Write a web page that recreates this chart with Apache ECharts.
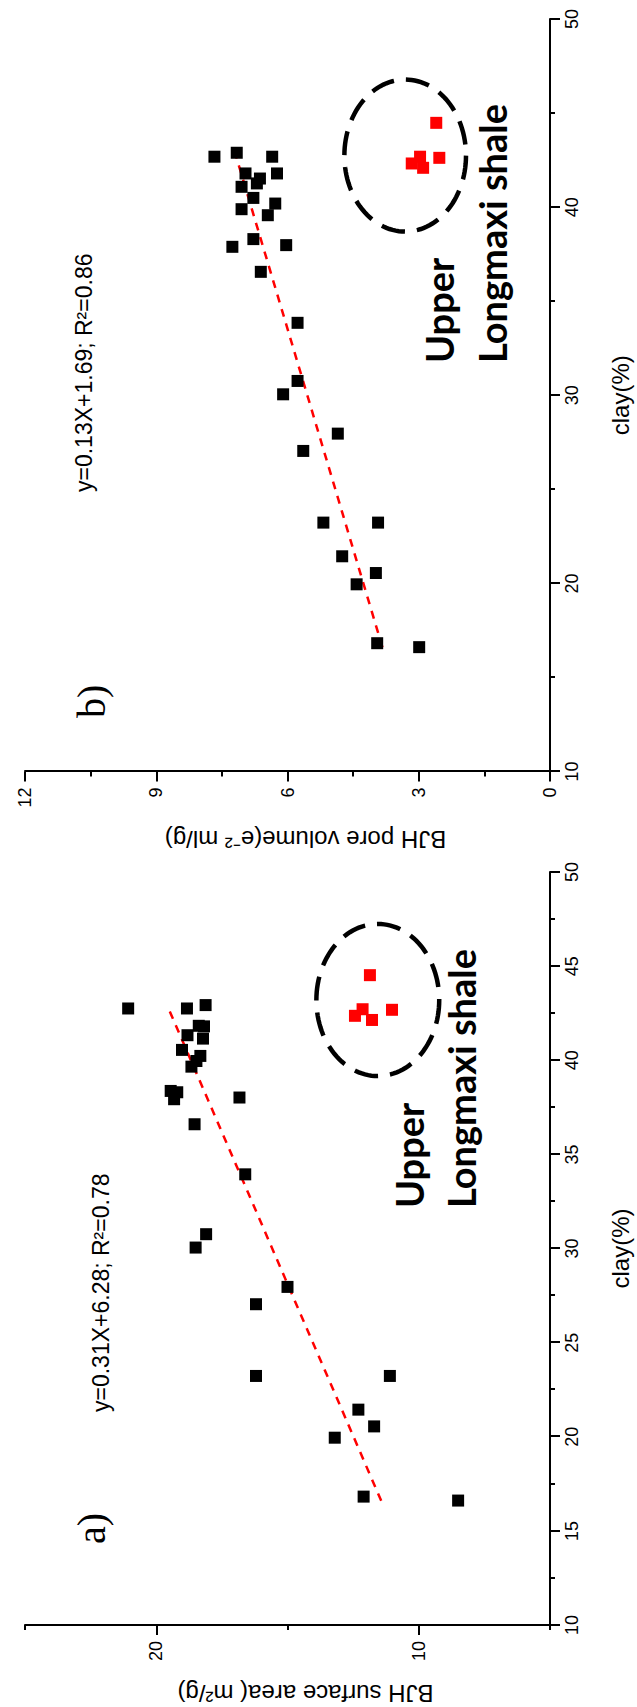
<!DOCTYPE html>
<html>
<head>
<meta charset="utf-8">
<script src="https://cdn.jsdelivr.net/npm/echarts@6/dist/echarts.min.js"></script>
<style>
html, body { margin: 0; padding: 0; background: #fff; width: 637px; height: 1707px; overflow: hidden; }
#chart { position: absolute; left: 0; top: 0; width: 1707px; height: 637px;
  transform-origin: 0 0; transform: translate(0, 1707px) rotate(-90deg); background: #fff; }
</style>
</head>
<body>
<div id="chart"></div>
<script>
// ---------- data (clay %, value) ----------
const clayRange = [10, 50];
const saRange = [5, 25];
const volRange = [0, 12];
const saLabelValues = [10, 20];
const saMinorValues = [5, 15, 25];

// panel a: BJH surface area (m2/g)
const blackA = [
  [42.75, 21.07], [42.75, 18.83], [42.93, 18.12], [41.83, 18.38], [41.80, 18.18],
  [41.33, 18.81], [41.15, 18.22], [40.55, 19.02], [40.23, 18.32], [39.96, 18.47],
  [39.66, 18.66], [38.37, 19.45], [38.30, 19.20], [37.93, 19.32], [38.02, 16.83],
  [36.60, 18.54], [33.94, 16.61], [30.76, 18.10], [30.05, 18.50], [27.96, 15.00],
  [27.04, 16.20], [23.23, 16.20], [23.23, 11.10], [21.44, 12.30], [20.55, 11.70],
  [19.95, 13.20], [16.82, 12.10], [16.61, 8.50]
];
const redA = [[44.52, 11.86], [42.36, 12.43], [42.71, 12.14], [42.14, 11.78], [42.68, 11.02]];
const fitA = [[16.6, 11.43], [42.9, 19.58]];
const ellipseA = [43.2, 11.56, 4.04, 2.34];   // centre clay, centre value, radius clay, radius value

// panel b: BJH pore volume (e-2 ml/g)
const blackB = [
  [42.68, 7.67], [42.89, 7.16], [42.68, 6.35], [41.79, 6.96], [41.79, 6.24],
  [41.52, 6.63], [41.26, 6.70], [41.08, 7.05], [40.49, 6.78], [40.19, 6.28],
  [39.89, 7.05], [39.57, 6.45], [38.30, 6.78], [37.89, 7.26], [37.98, 6.03],
  [36.56, 6.61], [33.85, 5.77], [30.76, 5.77], [30.05, 6.10], [27.96, 4.85],
  [27.04, 5.64], [23.23, 5.18], [23.23, 3.93], [21.44, 4.75], [20.55, 3.98],
  [19.95, 4.42], [16.82, 3.95], [16.61, 2.99]
];
const redB = [[44.48, 2.60], [42.62, 2.53], [42.32, 3.16], [42.68, 2.97], [42.09, 2.90]];
const fitB = [[16.6, 3.83], [42.9, 7.20]];
const ellipseB = [42.74, 3.31, 4.04, 1.39];

// texts
const nameClay = 'clay(%)';
const nameSA = 'BJH surface area( m\u00B2/g)';
const nameVol = 'BJH pore volume(e\u207B\u00B2 ml/g)';
const eqA = 'y=0.31X+6.28; R\u00B2=0.78';
const eqB = 'y=0.13X+1.69; R\u00B2=0.86';
const panelLabels = ['a)', 'b)'];
const noteLines = ['Upper', 'Longmaxi shale'];

// ---------- chart ----------
const FONT = 'Liberation Sans';
const chart = echarts.init(document.getElementById('chart'), null, { renderer: 'svg' });

const axisLineStyle = { color: '#000', width: 2 };

function clayAxis(gridIndex, interval) {
  return {
    type: 'value', gridIndex, min: clayRange[0], max: clayRange[1], interval,
    position: 'bottom',
    axisLine: { show: true, onZero: false, lineStyle: axisLineStyle },
    axisTick: { show: true, length: 10, lineStyle: axisLineStyle },
    minorTick: { show: true, splitNumber: 2, length: 5, lineStyle: axisLineStyle },
    axisLabel: { color: '#000', fontSize: 18, fontFamily: FONT, margin: 13 },
    splitLine: { show: false }, minorSplitLine: { show: false },
    name: nameClay, nameLocation: 'middle', nameGap: 58,
    nameTextStyle: { color: '#000', fontSize: 24, fontFamily: FONT }
  };
}

function ellipseRender(params, api) {
  const c = api.coord([api.value(0), api.value(1)]);
  const s = api.size([api.value(2), api.value(3)]);
  const pts = [];
  const n = 120;
  for (let i = 0; i <= n; i++) {
    const t = Math.PI / 2 + (i / n) * Math.PI * 2;
    pts.push([c[0] + s[0] * Math.cos(t), c[1] + s[1] * Math.sin(t)]);
  }
  return {
    type: 'polyline',
    shape: { points: pts },
    style: { fill: 'none', stroke: '#000', lineWidth: 4.5, lineDash: [24, 12] }
  };
}

function panelSeries(idx, black, red, fit, ell) {
  return [
    { type: 'line', xAxisIndex: idx, yAxisIndex: idx, data: fit, symbol: 'none', silent: true,
      lineStyle: { color: '#ff0000', width: 2.5, type: [8, 7], opacity: 1 }, z: 1 },
    { type: 'custom', xAxisIndex: idx, yAxisIndex: idx, data: [ell], renderItem: ellipseRender,
      encode: { x: 0, y: 1 }, silent: true, z: 2 },
    { type: 'scatter', xAxisIndex: idx, yAxisIndex: idx, data: black, symbol: 'rect', symbolSize: 12,
      itemStyle: { color: '#000000', opacity: 1 }, z: 3 },
    { type: 'scatter', xAxisIndex: idx, yAxisIndex: idx, data: red, symbol: 'rect', symbolSize: 12,
      itemStyle: { color: '#ff0000', opacity: 1 }, z: 3 }
  ];
}

function txt(x, y, text, size, opts) {
  opts = opts || {};
  return {
    type: 'text', x, y, z: 10, silent: true,
    style: {
      text, fill: '#000', fontSize: size, fontFamily: opts.family || FONT,
      fontWeight: opts.weight || 'normal',
      align: 'left', verticalAlign: 'middle', textAlign: 'left', textVerticalAlign: 'middle'
    }
  };
}

const option = {
  animation: false,
  backgroundColor: '#fff',
  grid: [
    { left: 82, top: 25, width: 753, height: 526 },
    { left: 935.5, top: 25, width: 752.5, height: 526 }
  ],
  xAxis: [clayAxis(0, 5), clayAxis(1, 10)],
  yAxis: [
    {
      type: 'value', gridIndex: 0, min: saRange[0], max: saRange[1], interval: 5, position: 'left',
      axisLine: { show: true, onZero: false, lineStyle: axisLineStyle },
      axisTick: { show: true, length: 10, lineStyle: axisLineStyle, customValues: saLabelValues },
      axisLabel: { color: '#000', fontSize: 18, fontFamily: FONT, margin: 16, customValues: saLabelValues },
      splitLine: { show: false },
      name: nameSA, nameLocation: 'middle', nameGap: 56,
      nameTextStyle: { color: '#000', fontSize: 24, fontFamily: FONT, padding: [0, 36, 0, 0] }
    },
    {
      type: 'value', gridIndex: 1, min: volRange[0], max: volRange[1], interval: 3, position: 'left',
      axisLine: { show: true, onZero: false, lineStyle: axisLineStyle },
      axisTick: { show: true, length: 10, lineStyle: axisLineStyle },
      minorTick: { show: true, splitNumber: 2, length: 5, lineStyle: axisLineStyle },
      axisLabel: { color: '#000', fontSize: 18, fontFamily: FONT, margin: 16 },
      splitLine: { show: false }, minorSplitLine: { show: false },
      name: nameVol, nameLocation: 'middle', nameGap: 56,
      nameTextStyle: { color: '#000', fontSize: 24, fontFamily: FONT, padding: [0, 36, 0, 0] }
    },
    {
      type: 'value', gridIndex: 0, min: saRange[0], max: saRange[1], interval: 5, position: 'left',
      axisLine: { show: false },
      axisTick: { show: true, length: 5, lineStyle: axisLineStyle, customValues: saMinorValues },
      axisLabel: { show: false },
      splitLine: { show: false }
    }
  ],
  series: [].concat(
    panelSeries(0, blackA, redA, fitA, ellipseA),
    panelSeries(1, blackB, redB, fitB, ellipseB)
  ),
  graphic: [
    txt(163, 91, panelLabels[0], 40, { family: 'Liberation Serif' }),
    txt(989, 91, panelLabels[1], 40, { family: 'Liberation Serif' }),
    txt(295, 101, eqA, 23),
    txt(1215, 84, eqB, 23),
    txt(499, 409, noteLines[0], 38, { family: 'Lato', weight: 'bold' }),
    txt(499, 461, noteLines[1], 38, { family: 'Lato', weight: 'bold' }),
    txt(1344, 439, noteLines[0], 38, { family: 'Lato', weight: 'bold' }),
    txt(1344, 492, noteLines[1], 38, { family: 'Lato', weight: 'bold' })
  ]
};
chart.setOption(option);
</script>
</body>
</html>
